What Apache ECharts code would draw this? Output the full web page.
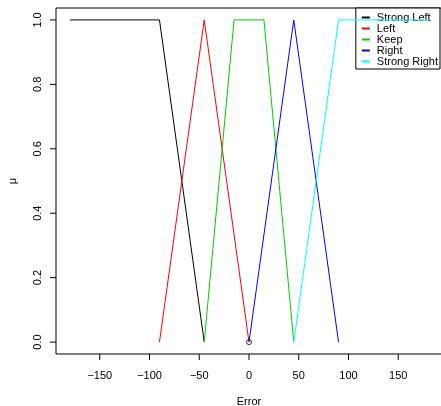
<!DOCTYPE html>
<html><head><meta charset="utf-8">
<script src="https://cdn.jsdelivr.net/npm/echarts@6/dist/echarts.min.js"></script>
<style>html,body{margin:0;background:#fff;overflow:hidden}#c{width:441px;height:406px}</style>
</head><body><div id="c"></div>
<script>
var names = ['Strong Left', 'Left', 'Keep', 'Right', 'Strong Right'];
var colors = ['#000000', '#ff0000', '#00cd00', '#0000ff', '#00ffff'];
var strongLeft = [[-180, 1], [-90, 1], [-45, 0]];
var left = [[-90, 0], [-45, 1], [0, 0]];
var keep = [[-45, 0], [-15, 1], [15, 1], [45, 0]];
var right = [[0, 0], [45, 1], [90, 0]];
var strongRight = [[45, 0], [90, 1], [180, 1]];
var xTicks = [-150, -100, -50, 0, 50, 100, 150];
var yTicks = [0, 0.2, 0.4, 0.6, 0.8, 1.0];
var point = [[0, 0]];

var chart = echarts.init(document.getElementById('c'));
var data = [strongLeft, left, keep, right, strongRight];
var series = data.map(function (d, i) {
	return {
		name: names[i], type: 'line', data: d, symbol: 'none', z: 5,
		lineStyle: {color: colors[i], width: 1}, itemStyle: {color: colors[i]}
	};
});
series.push({
	type: 'scatter', data: point, symbol: 'circle', symbolSize: 5, z: 6,
	itemStyle: {color: 'transparent', borderColor: '#000', borderWidth: 1}
});
chart.setOption({
	animation: false,
	textStyle: {fontFamily: 'Liberation Sans'},
	grid: {left: 56, right: -1, top: 8, bottom: 52, outerBoundsMode: 'none', containLabel: false,
		show: true, borderColor: '#000', borderWidth: 1},
	legend: {
		data: names, orient: 'vertical', right: 1, top: 8, itemWidth: 8, itemHeight: 2, itemGap: 0,
		icon: 'rect', backgroundColor: '#fff', borderColor: '#000', borderWidth: 1,
		padding: [4, 2, 2, 6], textStyle: {fontSize: 11, color: '#000', padding: [0, 0, 0, 2]}, z: 1
	},
	xAxis: {
		type: 'value', min: -194, max: 194, name: 'Error', nameLocation: 'middle', nameGap: 42,
		nameTextStyle: {fontSize: 11, color: '#000'},
		splitLine: {show: false}, axisLine: {show: false, onZero: false},
		axisTick: {show: false},
		axisLabel: {fontSize: 11, color: '#000', margin: 16, customValues: xTicks,
			formatter: function (v) { return String(v).replace('-', '\u2212'); }}
	},
	yAxis: {
		type: 'value', min: -0.037, max: 1.037, name: 'μ', nameLocation: 'middle', nameGap: 38,
		nameTextStyle: {fontSize: 11, color: '#000'},
		splitLine: {show: false}, axisLine: {show: false, onZero: false},
		axisTick: {show: false},
		axisLabel: {fontSize: 11, color: '#000', rotate: 90, margin: 13, customValues: yTicks,
			formatter: function (v) { return v.toFixed(1); }}
	},
	series: series
});

// outward ticks from the plot box
var g = [];
var ls = {stroke: '#000', lineWidth: 1};
var yb = 354, xl = 56;
xTicks.forEach(function (v) {
	var px = chart.convertToPixel({gridIndex: 0}, [v, 0])[0];
	g.push({type: 'line', shape: {x1: px, y1: yb, x2: px, y2: yb + 6}, style: ls});
});
yTicks.forEach(function (v) {
	var py = chart.convertToPixel({gridIndex: 0}, [0, v])[1];
	g.push({type: 'line', shape: {x1: xl, y1: py, x2: xl - 6, y2: py}, style: ls});
});
chart.setOption({graphic: g});
</script></body></html>
